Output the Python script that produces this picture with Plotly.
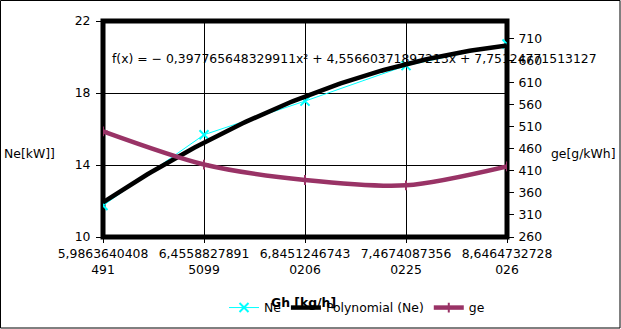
import numpy as np
import plotly.graph_objects as go

categories = ["5,9863640408<br>491", "6,4558827891<br>5099", "6,8451246743<br>0206",
              "7,4674087356<br>0225", "8,6464732728<br>026"]
ne_values = [11.75, 15.68, 17.55, 19.52, 20.72]
ge_values = [499, 424, 389, 377, 420]
left_ticks = [10, 14, 18, 22]
right_ticks = [260, 310, 360, 410, 460, 510, 560, 610, 660, 710]
equation = "f(x) = − 0,397765648329911x² + 4,55660371897213x + 7,75124771513127"

idx = np.arange(len(categories))
coef = np.polyfit(idx + 1, ne_values, 2)
xs = np.linspace(0, len(categories) - 1, 120)
trend = np.polyval(coef, xs + 1)

FONT = "DejaVu Sans"
FS = 12.4
W, H = 621, 329
L, R, T, B = 103, 507, 21, 237
PW, PH = R - L, B - T


def px(x):
    return (x - L) / PW


def py(y):
    return (B - y) / PH


fig = go.Figure()
fig.add_trace(go.Scatter(x=idx, y=ne_values, name="Ne", mode="lines+markers",
                         line=dict(color="#00FFFF", width=1),
                         marker=dict(symbol="x-thin", size=9, line=dict(color="#00FFFF", width=2))))
fig.add_trace(go.Scatter(x=xs, y=trend, name="Polynomial (Ne)", mode="lines",
                         line=dict(color="black", width=4.5)))
fig.add_trace(go.Scatter(x=idx, y=ge_values, name="ge", mode="lines+markers", yaxis="y2",
                         line=dict(color="#993366", width=4.5, shape="spline", smoothing=0.8),
                         marker=dict(symbol="cross-thin", size=7, line=dict(color="#993366", width=2))))

fig.update_layout(
    width=W, height=H,
    margin=dict(l=L, r=W - R, t=T, b=H - B, autoexpand=False),
    paper_bgcolor="white", plot_bgcolor="white",
    font=dict(family=FONT, size=FS, color="black"),
    showlegend=True,
    legend=dict(orientation="h", x=px(224), xanchor="left", y=py(293), yanchor="top",
                font=dict(family=FONT, size=FS), bgcolor="rgba(0,0,0,0)",
                itemwidth=30, tracegroupgap=0),
    xaxis=dict(range=[0, 4], tickmode="array", tickvals=list(idx), ticktext=categories,
               showgrid=True, gridcolor="black", gridwidth=1, zeroline=False, automargin=False,
               ticks="outside", ticklen=5, tickcolor="black", tickfont=dict(size=FS)),
    yaxis=dict(range=[10, 22], tickmode="array", tickvals=left_ticks, automargin=False,
               showgrid=True, gridcolor="black", gridwidth=1, zeroline=False,
               ticks="outside", ticklen=6, tickcolor="black", ticklabelstandoff=3),
    yaxis2=dict(range=[260, 749], overlaying="y", side="right", tickmode="array",
                tickvals=right_ticks, showgrid=False, zeroline=False, automargin=False,
                ticks="outside", ticklen=6, tickcolor="black", ticklabelstandoff=2),
    shapes=[
        dict(type="rect", xref="paper", yref="paper", x0=0, x1=1, y0=0, y1=1,
             line=dict(color="black", width=5), layer="between"),
        dict(type="rect", xref="paper", yref="paper", x0=px(0.5), x1=px(620),
             y0=py(328), y1=py(0.5), line=dict(color="black", width=1), layer="below"),
    ],
    annotations=[
        dict(text=equation, xref="paper", yref="paper", x=px(110), y=py(58),
             xanchor="left", yanchor="middle", showarrow=False, font=dict(size=FS)),
        dict(text="Ne[kW]]", xref="paper", yref="paper", x=px(2), y=py(153),
             xanchor="left", yanchor="middle", showarrow=False, font=dict(size=FS)),
        dict(text="ge[g/kWh]", xref="paper", yref="paper", x=px(617), y=py(153),
             xanchor="right", yanchor="middle", showarrow=False, font=dict(size=FS)),
        dict(text="<b>Gh [kg/h]</b>", xref="paper", yref="paper", x=px(303), y=py(302),
             xanchor="center", yanchor="middle", showarrow=False, font=dict(size=FS)),
    ],
)

fig.write_html("out.html", config={"displayModeBar": False},
               post_script="document.body.style.margin='0px';document.body.style.overflow='hidden';")
